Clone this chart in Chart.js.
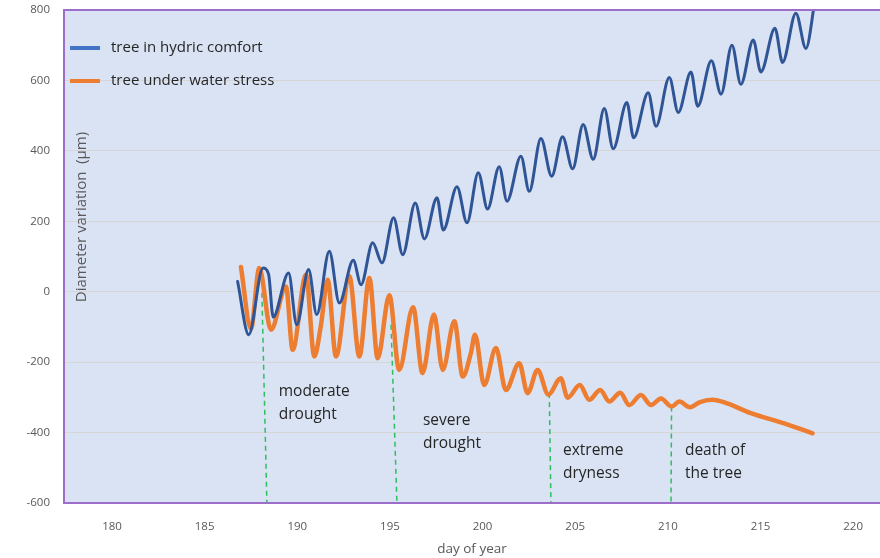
<!DOCTYPE html>
<html>
<head>
<meta charset="utf-8">
<script src="https://cdn.jsdelivr.net/npm/chart.js@4.4.1/dist/chart.umd.min.js"></script>
<style>
  html, body { margin: 0; padding: 0; background: #fff; }
  #wrap { width: 880px; height: 558px; }
</style>
</head>
<body>
<div id="wrap"><canvas id="diamChart" width="880" height="558"></canvas></div>
<script>
// axis ticks
const xTicks = [180, 185, 190, 195, 200, 205, 210, 215, 220];
const yTicks = [-600, -400, -200, 0, 200, 400, 600, 800];

// tree in hydric comfort (peaks / troughs)
const hydricDay = [186.78, 187.38, 188.15, 188.45, 188.7, 189.53, 189.97, 190.61, 191.05, 191.73,
  192.27, 193.02, 193.44, 194.07, 194.57, 195.2, 195.69, 196.37, 196.86, 197.54,
  197.88, 198.62, 199.16, 199.77, 200.27, 200.9, 201.32, 202.07, 202.52,
  203.15, 203.73, 204.32, 204.86, 205.43, 205.97, 206.57, 207.05, 207.79, 208.15,
  208.94, 209.36, 210.08, 210.56, 211.25, 211.61, 212.35, 212.87, 213.46, 213.94,
  214.61, 215.02, 215.78, 216.19, 216.91, 217.45, 217.95];
const hydricDiam = [29, -122, 67, 50, -72, 53, -94, 63, -65, 115,
  -32, 89, 20, 139, 82, 210, 105, 252, 150, 267,
  175, 298, 196, 338, 235, 355, 257, 385, 285,
  435, 328, 440, 349, 475, 376, 520, 406, 537, 437,
  565, 470, 608, 509, 624, 527, 656, 561, 700, 589,
  715, 624, 748, 651, 791, 691, 830];

// tree under water stress
const stressDay = [186.96, 187.5, 187.95, 188.58, 189.39, 189.75, 190.47, 190.92, 191.28, 191.64,
  192.09, 192.81, 193.35, 193.89, 194.34, 194.97, 195.5, 196.25, 196.76, 197.38,
  197.85, 198.48, 198.93, 199.37, 199.59, 200.09, 200.72, 201.26, 201.98, 202.43,
  202.97, 203.55, 204.22, 204.59, 205.25, 205.76, 206.35, 206.84, 207.43, 207.92,
  208.55, 209.09, 209.63, 210.2, 210.62, 211.2, 211.7, 212.4, 213.2, 214.48,
  216.28, 217.81];
const stressDiam = [70, -105, 67, -108, 15, -165, 48, -184, -94, 34,
  -184, 44, -184, 39, -189, -10, -222, -44, -231, -65,
  -222, -84, -241, -174, -122, -265, -160, -279, -203, -288,
  -222, -292, -246, -301, -265, -307, -279, -312, -287, -322,
  -293, -322, -303, -326, -312, -328, -314, -307, -317, -345,
  -374, -402];

// drought phase markers
const phaseTopDay = [188.09, 195.06, 203.6, 210.2];
const phaseTopDiam = [-3, -94, -288, -326];
const phaseBottomDay = [188.36, 195.38, 203.69, 210.17];
const phaseLabels = [['moderate', 'drought'], ['severe', 'drought'], ['extreme', 'dryness'], ['death of', 'the tree']];
const phaseLabelDay = [189.0, 196.78, 204.34, 210.92];
const phaseLabelDiam = [-283, -367, -452, -450];

const FONT = '"Open Sans", sans-serif';
const BLUE = '#2f5597';
const ORANGE = '#ed7d31';

function pairs(xs, ys) {
    return xs.map((x, i) => ({ x: x, y: ys[i] }));
}

const datasets = [
    {
        label: 'tree in hydric comfort',
        data: pairs(hydricDay, hydricDiam),
        borderColor: BLUE,
        borderWidth: 3,
        cubicInterpolationMode: 'monotone',
        pointRadius: 0,
        borderCapStyle: 'round',
        borderJoinStyle: 'round'
    },
    {
        label: 'tree under water stress',
        data: pairs(stressDay, stressDiam),
        borderColor: ORANGE,
        borderWidth: 4.5,
        cubicInterpolationMode: 'monotone',
        pointRadius: 0,
        borderCapStyle: 'round',
        borderJoinStyle: 'round'
    }
];
phaseTopDay.forEach(function(d, i) {
    datasets.push({
        label: 'phase' + i,
        data: [{ x: d, y: phaseTopDiam[i] }, { x: phaseBottomDay[i], y: -600 }],
        borderColor: '#2dbf5f',
        borderWidth: 1.5,
        borderDash: [5, 4],
        pointRadius: 0,
        tension: 0
    });
});

// plot background, frame, legend, annotations, y title
const decor = {
    id: 'decor',
    beforeDraw(chart) {
        const a = chart.chartArea, ctx = chart.ctx;
        ctx.save();
        ctx.fillStyle = '#dae3f3';
        ctx.fillRect(a.left, a.top, a.right - a.left, a.bottom - a.top);
        ctx.restore();
    },
    afterDraw(chart) {
        const a = chart.chartArea, ctx = chart.ctx;
        const xs = chart.scales.x, ys = chart.scales.y;
        ctx.save();
        // frame
        ctx.strokeStyle = '#9c6dc9';
        ctx.lineWidth = 2;
        ctx.beginPath();
        ctx.moveTo(a.right + 2, a.top);
        ctx.lineTo(a.left, a.top);
        ctx.lineTo(a.left, a.bottom);
        ctx.lineTo(a.right + 2, a.bottom);
        ctx.stroke();

        // legend
        const legend = [['tree in hydric comfort', '#4472c4'], ['tree under water stress', ORANGE]];
        ctx.font = '15px ' + FONT;
        ctx.textBaseline = 'middle';
        legend.forEach(function(item, i) {
            const y = 48 + i * 33;
            ctx.strokeStyle = item[1];
            ctx.lineWidth = 4;
            ctx.beginPath();
            ctx.moveTo(70, y);
            ctx.lineTo(100, y);
            ctx.stroke();
            ctx.fillStyle = '#262626';
            ctx.fillText(item[0], 111, y);
        });

        // phase annotations
        ctx.font = '15.5px ' + FONT;
        ctx.fillStyle = '#262626';
        phaseLabels.forEach(function(lines, i) {
            const px = xs.getPixelForValue(phaseLabelDay[i]);
            const py = ys.getPixelForValue(phaseLabelDiam[i]);
            lines.forEach(function(t, j) {
                ctx.fillText(t, px, py + j * 23);
            });
        });

        // y axis title, drawn inside the plot
        ctx.translate(a.left + 18, 217);
        ctx.rotate(-Math.PI / 2);
        ctx.textAlign = 'center';
        ctx.font = '15px ' + FONT;
        ctx.fillStyle = '#595959';
        ctx.fillText('Diameter variation  (\u00b5m)', 0, 0);
        ctx.restore();
    }
};

new Chart(document.getElementById('diamChart'), {
    type: 'line',
    data: { datasets: datasets },
    options: {
        responsive: false,
        animation: false,
        layout: { padding: { top: 10, left: 0, right: 0, bottom: 0 } },
        plugins: {
            legend: { display: false },
            tooltip: { enabled: false }
        },
        scales: {
            x: {
                type: 'linear',
                min: 177.41,
                max: 221.45,
                afterBuildTicks: function(scale) {
                    scale.ticks = xTicks.map(v => ({ value: v }));
                },
                afterFit: function(scale) {
                    scale.height = 55;
                    scale.paddingLeft = 0;
                    scale.paddingRight = 0;
                },
                grid: { display: false },
                border: { display: false },
                ticks: {
                    padding: 9,
                    color: '#595959',
                    font: { family: FONT, size: 11.5 },
                    maxRotation: 0
                },
                title: {
                    display: true,
                    text: 'day of year',
                    color: '#595959',
                    font: { family: FONT, size: 13.5 },
                    padding: { top: 0, bottom: 1 }
                }
            },
            y: {
                type: 'linear',
                min: -600,
                max: 800,
                afterBuildTicks: function(scale) {
                    scale.ticks = yTicks.map(v => ({ value: v }));
                },
                afterFit: function(scale) {
                    scale.width = 64;
                    scale.paddingTop = 0;
                    scale.paddingBottom = 0;
                },
                grid: { color: '#d6d6d6', lineWidth: 1, drawTicks: false },
                border: { display: false },
                ticks: {
                    padding: 14,
                    color: '#595959',
                    font: { family: FONT, size: 11.5 }
                }
            }
        }
    },
    plugins: [decor]
});
</script>
</body>
</html>
